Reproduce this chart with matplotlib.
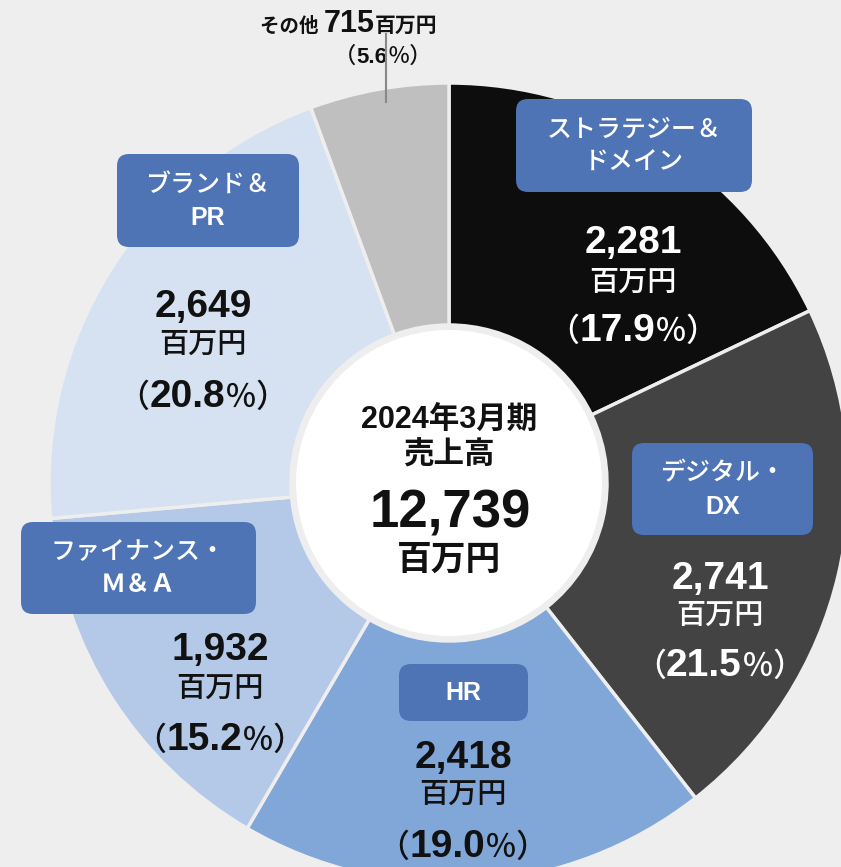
import matplotlib.pyplot as plt
from matplotlib.patches import FancyBboxPatch, Circle

W, H = 841, 867
FONTS = ['Liberation Sans', 'Noto Sans CJK JP', 'DejaVu Sans']

# data
segments = ["ストラテジー＆\nドメイン", "デジタル・\nDX", "HR", "ファイナンス・\nＭ＆Ａ", "ブランド＆\nPR", "その他"]
sales = [2281, 2741, 2418, 1932, 2649, 715]
shares = [17.9, 21.5, 19.0, 15.2, 20.8, 5.6]
total = 12739
period = "2024年3月期"
unit = "百万円"

colors = ['#0d0d0d', '#434343', '#80a7d8', '#b4c9e7', '#d6e2f2', '#bfbfbf']
txt_colors = ['white', 'white', '#111111', '#111111', '#111111', '#111111']
bg = '#eeeeee'
box_color = '#4e74b5'

cx, cy, R = 449, 483, 400

fig = plt.figure(figsize=(W / 100, H / 100), dpi=100)
fig.patch.set_facecolor(bg)
ax = fig.add_axes([0, 0, 1, 1])
ax.set_facecolor(bg)

ax.pie(sales, colors=colors, startangle=-90, counterclock=True,
       center=(cx, cy), radius=R,
       wedgeprops=dict(width=R - 158, edgecolor=bg, linewidth=2.5))
ax.add_patch(Circle((cx, cy), 153, facecolor='white', edgecolor='none', zorder=3))

ax.set_xlim(0, W)
ax.set_ylim(H, 0)
ax.set_aspect('equal')
ax.axis('off')

renderer = fig.canvas.get_renderer()


def mixed(x, y, parts, color):
    # pieces of text on one baseline, centred on x
    texts = []
    for s, size, weight in parts:
        t = ax.text(0, y, s, fontsize=size, fontweight=weight, color=color,
                    va='baseline', ha='left', family=FONTS, zorder=5)
        texts.append(t)
    widths = [t.get_window_extent(renderer).width for t in texts]
    x0 = x - sum(widths) / 2
    for t, w in zip(texts, widths):
        t.set_x(x0)
        x0 += w


# label boxes (x0, y0, x1, y1)
boxes = [(516, 99, 752, 192), (632, 443, 813, 535), (399, 664, 528, 721),
         (21, 522, 256, 614), (117, 154, 299, 247)]
# value label positions: x, value baseline, unit centre, pct baseline
label_pos = [(633, 253, 283, 341), (720, 589, 616, 676), (463, 768, 795, 857),
             (220, 660, 689, 750), (203, 317, 345, 407)]

for i in range(5):
    x0, y0, x1, y1 = boxes[i]
    ax.add_patch(FancyBboxPatch((x0, y0), x1 - x0, y1 - y0,
                                boxstyle="round,pad=0,rounding_size=12",
                                facecolor=box_color, edgecolor='none', zorder=4))
    lines = segments[i].split("\n")
    mid = (y0 + y1) / 2 + 1
    gap = 33
    for k, line in enumerate(lines):
        ly = mid + (k - (len(lines) - 1) / 2) * gap
        latin = line.isascii() or line == "Ｍ＆Ａ"
        ax.text((x0 + x1) / 2, ly, line, color='white', fontsize=18,
                fontweight='bold' if latin else 'medium',
                ha='center', va='center', family=FONTS, zorder=5)

    lx, vy, uy, py = label_pos[i]
    c = txt_colors[i]
    ax.text(lx, vy, f"{sales[i]:,}", color=c, fontsize=28, fontweight='bold',
            ha='center', va='baseline', family=FONTS, zorder=5)
    ax.text(lx, uy, unit, color=c, fontsize=21, fontweight='medium',
            ha='center', va='center', family=FONTS, zorder=5)
    mixed(lx, py, [("（", 23, 'medium'), (f"{shares[i]:.1f}", 28, 'bold'),
                   ("％）", 23, 'medium')], c)

# その他 label outside the ring
mixed(349, 32, [("その他 ", 14, 'bold'), (str(sales[5]), 22, 'bold'),
                (unit, 15, 'bold')], '#111111')
mixed(383, 63, [("（", 16, 'medium'), (f"{shares[5]:.1f}", 16, 'bold'),
                ("％）", 16, 'medium')], '#111111')
ax.plot([386, 386], [34, 102], color='#888888', lw=1.5, zorder=5)

# centre text
ax.text(cx, 420, period, fontsize=22, fontweight='bold', ha='center', va='center',
        family=FONTS, color='#111111', zorder=5)
ax.text(cx, 456, "売上高", fontsize=22, fontweight='bold', ha='center', va='center',
        family=FONTS, color='#111111', zorder=5)
ax.text(cx + 1, 528, f"{total:,}", fontsize=38, fontweight='bold', ha='center',
        va='baseline', family=FONTS, color='#111111', zorder=5)
ax.text(cx, 560, unit, fontsize=25, fontweight='bold', ha='center', va='center',
        family=FONTS, color='#111111', zorder=5)

fig.savefig('out.png', dpi=100, facecolor=bg)
